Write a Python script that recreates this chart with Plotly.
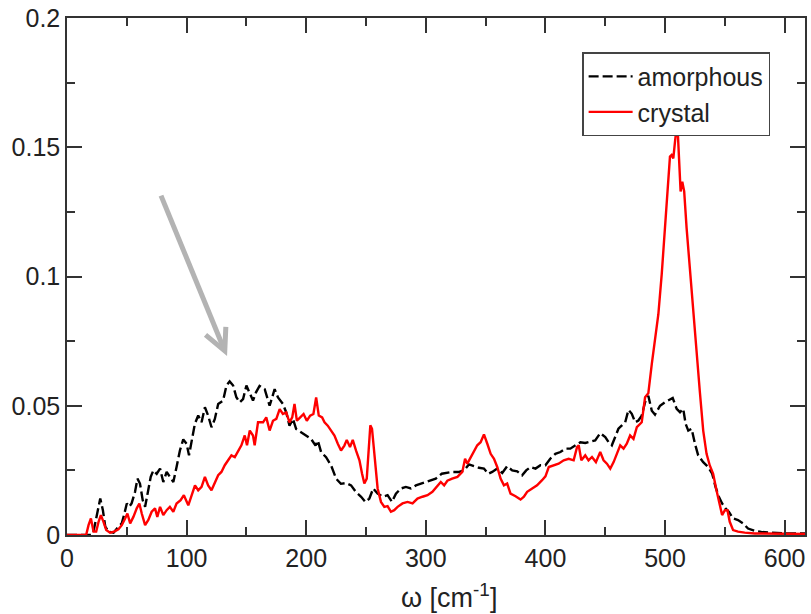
import plotly.graph_objects as go

# Vibrational density of states: amorphous vs crystalline
omega_amorphous = [
    0, 10, 20, 22, 24, 26, 27.8, 30, 32, 34.7, 38.9, 43, 45.8, 48, 50, 52, 54, 56.9, 58.9, 61,
    63.3, 65.3, 67.2, 70, 72.2, 75, 77.8, 80.5, 83.3, 86, 88.9, 91.6, 94.4, 97.2, 100, 102, 104,
    106.9, 109.7, 112.5, 115.3, 118, 120.8, 123.6, 126.4, 130.5, 133.3, 136, 138.9, 141.6, 144.4,
    147.2, 150, 152.8, 155.5, 158, 161, 165.3, 169.4, 173.6, 176.4, 180.5, 183.3, 186, 188.9,
    191.6, 195.8, 200, 204, 207.8, 209.7, 212.5, 216.6, 220.8, 225, 229, 233.3, 237.5, 241.6,
    245.9, 249.5, 252.8, 256, 259.7, 264, 268, 271.7, 275, 279.2, 283.3, 287.5, 291.7, 295.8,
    300, 304.2, 308.3, 313.3, 318, 322, 327.8, 332, 336, 340, 344.4, 348.6, 352.2, 355.5, 359.7,
    363.9, 368, 372.2, 376.4, 380.5, 383.9, 387.5, 391.7, 395.8, 400, 404, 408.3, 412.5, 416.6,
    420.8, 425, 429.2, 433.3, 437.5, 441.6, 445.8, 450, 452.8, 455.5, 458.3, 461, 463.9, 466.7,
    469.4, 472.2, 475, 477.7, 480.5, 483.3, 486, 488.9, 491.6, 495.8, 500, 504, 506.4, 509.7,
    512.5, 515.2, 517.2, 519.4, 522.2, 525, 527.7, 531.9, 536, 539.4, 542.2, 545, 547.7, 550.5,
    553.3, 556.9, 561, 565.2, 569.4, 575, 580.5, 588.8, 600, 617,
]
dos_amorphous = [
    0, 0, 0, 0.001, 0.006, 0.010, 0.0141, 0.0096, 0.0032, 0.0013, 0.0009, 0.0032, 0.0045,
    0.0083, 0.0122, 0.0109, 0.0122, 0.0167, 0.0218, 0.0199, 0.0135, 0.0109, 0.016, 0.0225,
    0.025, 0.0237, 0.0257, 0.0205, 0.0244, 0.0225, 0.0205, 0.0263, 0.0327, 0.037, 0.0353,
    0.0308, 0.0353, 0.043, 0.0462, 0.0436, 0.0494, 0.0462, 0.0417, 0.0449, 0.0507, 0.052,
    0.0578, 0.0594, 0.0578, 0.0533, 0.0513, 0.0526, 0.0578, 0.0546, 0.052, 0.0552, 0.0577,
    0.0564, 0.050, 0.0564, 0.0532, 0.0507, 0.0474, 0.0423, 0.0449, 0.041, 0.0397, 0.0385,
    0.0372, 0.0346, 0.0365, 0.032, 0.0301, 0.0269, 0.0218, 0.0198, 0.0201, 0.0192, 0.0166,
    0.0148, 0.0128, 0.0141, 0.018, 0.016, 0.0148, 0.0154, 0.0128, 0.016, 0.018, 0.0186, 0.018,
    0.0192, 0.0199, 0.0205, 0.0212, 0.0218, 0.0237, 0.0242, 0.0244, 0.0244, 0.025, 0.0273,
    0.0266, 0.026, 0.0257, 0.0237, 0.0244, 0.0257, 0.024, 0.0266, 0.025, 0.0246, 0.0231, 0.025,
    0.0263, 0.0257, 0.027, 0.027, 0.0295, 0.0314, 0.0321, 0.0334, 0.0334, 0.0347, 0.0359,
    0.0356, 0.0362, 0.0366, 0.0394, 0.0379, 0.0359, 0.0347, 0.0379, 0.0411, 0.0424, 0.0436,
    0.0484, 0.0469, 0.0436, 0.0443, 0.0462, 0.0514, 0.0539, 0.0481, 0.0466, 0.050, 0.0514,
    0.0523, 0.053, 0.0488, 0.0475, 0.0488, 0.043, 0.0404, 0.0411, 0.0353, 0.0308, 0.0282,
    0.0263, 0.0237, 0.0186, 0.0148, 0.0122, 0.0103, 0.009, 0.0064, 0.0058, 0.0045, 0.0025,
    0.0016, 0.0012, 0.0009, 0.0006, 0.0006,
]

omega_crystal = [
    0, 10, 16, 18, 20, 22.2, 24.4, 26.4, 28.3, 30.5, 32.8, 36, 39.4, 43, 45.8, 48.6, 50.5, 52.8,
    55.5, 58.3, 60.5, 62.5, 65.3, 68, 70.8, 73.6, 75.5, 77.8, 80.5, 83.3, 86, 88.9, 91.6, 95,
    97.7, 101.4, 104, 107, 109.7, 112.5, 115.3, 118, 120.8, 123.6, 126.4, 129.1, 131.9, 134.7,
    137.5, 140.3, 143, 145.8, 148.6, 150.5, 152.8, 155.5, 156.9, 159.7, 163.9, 166.6, 169.4,
    172.2, 175, 177.8, 180.5, 183.3, 186, 188.3, 190.2, 192.2, 195, 197.8, 200.5, 203.3, 206,
    208.3, 210.5, 213.3, 215.3, 218, 220.8, 223.6, 226.4, 229.1, 231.9, 233.9, 236.6, 238.9,
    241.6, 244.5, 246.7, 248.6, 250.6, 252.2, 253.6, 255, 256.4, 257.8, 259.7, 262.5, 265.3,
    268, 270.8, 273.6, 276.4, 280.5, 284.7, 288.9, 293, 297.2, 301.4, 305.5, 309.7, 312.5,
    315.3, 318, 322, 326.4, 330.5, 332.8, 334.7, 337.5, 340.3, 343, 345.8, 348.6, 351.4, 354.2,
    357, 359.7, 362.5, 365.3, 368, 370.8, 375, 379.2, 382, 384.7, 388.9, 393, 397.2, 400, 402.8,
    407, 411, 415.3, 419.4, 423.6, 426.4, 427.8, 430, 433.3, 436, 438.9, 442.2, 445.8, 448.6,
    451.4, 454.2, 457, 459.7, 462.5, 465.3, 468, 470.8, 473.6, 476.4, 480.5, 483.3, 486, 488.9,
    491.6, 494.4, 497.2, 500, 502.2, 504.1, 505.5, 506.9, 508.3, 509.7, 510.5, 511.6, 513,
    514.4, 516, 518, 520, 522.2, 524.4, 526.3, 529, 531.9, 534.7, 537.4, 540.2, 543, 545.8,
    547.7, 550, 552.2, 554.1, 556.9, 561, 566.6, 575, 617,
]
dos_crystal = [
    0, 0, 0, 0.0038, 0.0064, 0.0013, 0.0013, 0.0051, 0.0077, 0.0051, 0.0019, 0.0009, 0.0013,
    0.0022, 0.0038, 0.0064, 0.0083, 0.0045, 0.007, 0.0103, 0.0122, 0.0083, 0.0038, 0.0058,
    0.009, 0.0103, 0.007, 0.0109, 0.0077, 0.0096, 0.0109, 0.009, 0.0122, 0.0135, 0.0154,
    0.0115, 0.0148, 0.0192, 0.0173, 0.0186, 0.0225, 0.0192, 0.0173, 0.0199, 0.0231, 0.0244,
    0.027, 0.0289, 0.0308, 0.0301, 0.0321, 0.0347, 0.0385, 0.0347, 0.0404, 0.0385, 0.0347,
    0.0436, 0.0436, 0.0455, 0.0404, 0.0442, 0.0449, 0.0487, 0.0468, 0.0474, 0.0436, 0.0455,
    0.0507, 0.0442, 0.0455, 0.0468, 0.0442, 0.0462, 0.0468, 0.0532, 0.0462, 0.0455, 0.0436,
    0.0423, 0.0404, 0.0385, 0.0353, 0.0327, 0.0346, 0.0368, 0.034, 0.0368, 0.0327, 0.0289,
    0.0237, 0.0199, 0.0218, 0.0314, 0.0424, 0.0411, 0.034, 0.025, 0.018, 0.0128, 0.0109,
    0.0112, 0.009, 0.0096, 0.0109, 0.0122, 0.0128, 0.0122, 0.0141, 0.0148, 0.0154, 0.0167,
    0.0189, 0.0205, 0.0192, 0.021, 0.0218, 0.0225, 0.0244, 0.0295, 0.0276, 0.0302, 0.0327,
    0.0347, 0.0359, 0.0389, 0.0353, 0.0314, 0.0295, 0.0263, 0.0218, 0.0192, 0.0199, 0.016,
    0.015, 0.0137, 0.0148, 0.0167, 0.018, 0.0192, 0.0212, 0.0227, 0.0263, 0.027, 0.0276,
    0.0289, 0.0295, 0.0289, 0.034, 0.0347, 0.0289, 0.0308, 0.0289, 0.0302, 0.0282, 0.0321,
    0.0289, 0.0276, 0.0257, 0.0282, 0.0314, 0.0347, 0.0334, 0.0353, 0.0385, 0.0372, 0.0417,
    0.0436, 0.0533, 0.0548, 0.0661, 0.0751, 0.0854, 0.1008, 0.1188, 0.1329, 0.1464, 0.147,
    0.1457, 0.1521, 0.1579, 0.1573, 0.1483, 0.1329, 0.1367, 0.1329, 0.1188, 0.1072, 0.0918,
    0.079, 0.0687, 0.0559, 0.0404, 0.0314, 0.0269, 0.0237, 0.0173, 0.0122, 0.0077, 0.0096,
    0.0096, 0.0051, 0.0019, 0.0013, 0.0009, 0.0006, 0.0004,
]

x_ticks = [0, 100, 200, 300, 400, 500, 600]
y_ticks = [0, 0.05, 0.1, 0.15, 0.2]
y_tick_labels = ["0", "0.05", "0.1", "0.15", "0.2"]

# arrow pointing at the low-frequency excess of the amorphous curve (data units)
arrow_tail = (78.6, 0.1313)
arrow_tip = (131.9, 0.0712)
arrow_arm_left = (115.8, 0.0774)
arrow_arm_right = (132.8, 0.0805)
ARROW_COLOR = "#b3b3b3"

FONT = "Liberation Sans, Arial, sans-serif"
TEXT_COLOR = "#222222"
AXIS_COLOR = "#333333"

fig = go.Figure()
fig.add_trace(go.Scatter(
    x=omega_amorphous, y=dos_amorphous, mode="lines", name="amorphous",
    line=dict(color="black", width=2.4, dash="10px,4px"),
))
fig.add_trace(go.Scatter(
    x=omega_crystal, y=dos_crystal, mode="lines", name="crystal",
    line=dict(color="#ff0000", width=2.4),
))

fig.add_shape(
    type="path", xref="x", yref="y",
    path=f"M {arrow_tail[0]},{arrow_tail[1]} L {arrow_tip[0]},{arrow_tip[1]}",
    line=dict(color=ARROW_COLOR, width=5),
)
fig.add_shape(
    type="path", xref="x", yref="y",
    path=(f"M {arrow_arm_left[0]},{arrow_arm_left[1]} L {arrow_tip[0]},{arrow_tip[1]} "
          f"L {arrow_arm_right[0]},{arrow_arm_right[1]}"),
    line=dict(color=ARROW_COLOR, width=5),
)

axis_common = dict(
    showline=True, linecolor=AXIS_COLOR, linewidth=1.5, mirror="ticks",
    ticks="inside", ticklen=15, tickwidth=1.5, tickcolor=AXIS_COLOR,
    showgrid=False, zeroline=False,
    tickfont=dict(family=FONT, size=25, color=TEXT_COLOR),
)

fig.update_xaxes(
    range=[0, 617], tickvals=x_ticks,
    minor=dict(dtick=50, tick0=0, ticks="inside", ticklen=8, tickwidth=1.5,
               tickcolor=AXIS_COLOR, showgrid=False),
    **axis_common,
)
fig.update_yaxes(
    range=[0, 0.2], tickvals=y_ticks, ticktext=y_tick_labels,
    minor=dict(dtick=0.025, tick0=0, ticks="inside", ticklen=8, tickwidth=1.5,
               tickcolor=AXIS_COLOR, showgrid=False),
    **axis_common,
)

# x-axis title
fig.add_annotation(
    text="ω [cm<sup>-1</sup>]", xref="paper", yref="paper", x=0.517, y=-0.118,
    xanchor="center", yanchor="middle", showarrow=False,
    font=dict(family=FONT, size=27, color=TEXT_COLOR),
)

fig.update_layout(
    width=811, height=614,
    margin=dict(l=67, r=4, t=16, b=79),
    paper_bgcolor="white", plot_bgcolor="white",
    showlegend=True,
    legend=dict(
        x=0.698, y=0.934, xanchor="left", yanchor="top",
        bgcolor="white", bordercolor="#444444", borderwidth=1.5,
        font=dict(family=FONT, size=25, color=TEXT_COLOR),
        tracegroupgap=0, itemwidth=44,
    ),
)

fig.write_html("out.html")
